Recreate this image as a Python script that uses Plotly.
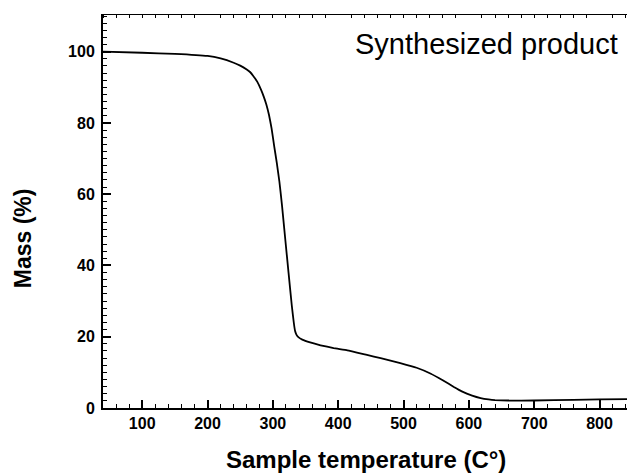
import plotly.graph_objects as go

temperature = [40, 100, 150, 200, 220, 240, 250, 260, 265, 270, 276, 282, 286, 290, 294,
               298, 302, 306, 310, 314, 319, 324, 329, 332, 334, 336, 339, 345, 357, 373,
               393, 414, 444, 465, 495, 520, 541, 560, 577, 590, 605, 618, 630, 640, 660,
               700, 760, 800, 842]
mass = [100.0, 99.7, 99.4, 98.8, 98.1, 96.9, 96.1, 95.0, 94.3, 93.2, 91.6, 89.3, 87.4, 85.2, 82.3,
        78.5, 73.5, 68.8, 63.5, 56.8, 47.3, 37.9, 28.7, 24.0, 21.6, 20.6, 19.9, 19.2, 18.4, 17.6,
        16.8, 16.2, 14.9, 14.0, 12.6, 11.3, 9.7, 7.8, 5.9, 4.6, 3.5, 2.8, 2.4, 2.2, 2.1,
        2.1, 2.3, 2.4, 2.5]

x_ticks = [100, 200, 300, 400, 500, 600, 700, 800]
y_ticks = [0, 20, 40, 60, 80, 100]
x_title = "Sample temperature (C°)"
y_title = "Mass (%)"
label = "Synthesized product"

tickfont = dict(family="Liberation Sans, Arial", size=16, color="black", weight="bold")

fig = go.Figure()
fig.add_trace(go.Scatter(x=temperature, y=mass, mode="lines",
                         line=dict(color="black", width=1.8, shape="spline", smoothing=0.3),
                         showlegend=False, hoverinfo="skip"))
# invisible trace for top mirror axis
fig.add_trace(go.Scatter(x=temperature[:1], y=mass[:1], xaxis="x2", mode="lines",
                         line=dict(width=0), showlegend=False, hoverinfo="skip"))

fig.update_layout(
    width=627, height=473,
    margin=dict(l=103, r=0, t=15, b=65),
    paper_bgcolor="white", plot_bgcolor="white",
    xaxis=dict(range=[40, 842], tickvals=x_ticks, ticks="inside", ticklen=8, tickwidth=1.5,
               tickcolor="black", showline=True, linecolor="black", linewidth=2,
               showgrid=False, zeroline=False, tickfont=tickfont,
               minor=dict(dtick=20, tick0=0, ticks="inside", ticklen=4, tickwidth=1.2,
                          tickcolor="black", showgrid=False)),
    xaxis2=dict(range=[40, 842], overlaying="x", side="top", showticklabels=False,
                ticks="", showline=True, linecolor="black", linewidth=1,
                showgrid=False, zeroline=False,
                minor=dict(dtick=20, tick0=0, ticks="inside", ticklen=3, tickwidth=1,
                           tickcolor="black", showgrid=False)),
    yaxis=dict(range=[0, 110.3], tickvals=y_ticks, ticks="inside", ticklen=8, tickwidth=1.5,
               tickcolor="black", showline=True, linecolor="black", linewidth=2,
               showgrid=False, zeroline=False, tickfont=tickfont, ticklabelstandoff=3,
               minor=dict(dtick=2, tick0=0, ticks="inside", ticklen=4, tickwidth=1.2,
                          tickcolor="black", showgrid=False)),
    annotations=[
        dict(text=x_title, xref="paper", yref="paper", x=0.501, y=-0.132,
             xanchor="center", yanchor="middle", showarrow=False,
             font=dict(family="Liberation Sans, Arial", size=24, color="black", weight="bold")),
        dict(text=y_title, xref="paper", yref="paper", x=-0.1527, y=0.432,
             xanchor="center", yanchor="middle", showarrow=False, textangle=-90,
             font=dict(family="Liberation Sans, Arial", size=23, color="black", weight="bold")),
        dict(text=label, xref="paper", yref="paper", x=0.987, y=0.926,
             xanchor="right", yanchor="middle", showarrow=False,
             font=dict(family="Liberation Sans, Arial", size=29, color="black")),
    ],
)

fig.write_html("out.html")
